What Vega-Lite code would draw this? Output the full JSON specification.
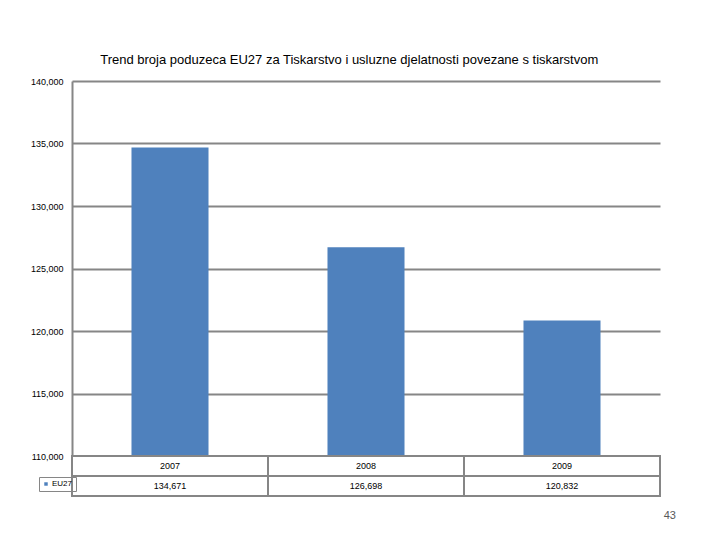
{
  "$schema": "https://vega.github.io/schema/vega-lite/v6.json",
  "background": "white",
  "padding": {"left": 30, "top": 54, "right": 5, "bottom": 5},
  "bounds": "flush",
  "title": {"text": "Trend broja poduzeca EU27 za Tiskarstvo i usluzne djelatnosti povezane s tiskarstvom", "fontSize": 13, "font": "Liberation Sans", "fontWeight": "normal", "color": "#000000", "anchor": "middle", "offset": 10, "dx": -4},
  "config": {"view": {"stroke": null}, "font": "Liberation Sans"},
  "spacing": 0,
  "vconcat": [
    {
      "width": 588,
      "height": 375,
      "data": {"values": [
        {"year": "2007", "value": 134671, "series": "EU27"},
        {"year": "2008", "value": 126698, "series": "EU27"},
        {"year": "2009", "value": 120832, "series": "EU27"}
      ]},
      "mark": {"type": "bar"},
      "encoding": {
        "x": {"field": "year", "type": "ordinal", "scale": {"paddingInner": 0.607, "paddingOuter": 0.3035}, "axis": null},
        "y": {"field": "value", "type": "quantitative", "scale": {"domain": [110000, 140000], "nice": false, "zero": false},
          "axis": {"values": [110000, 115000, 120000, 125000, 130000, 135000, 140000], "labelExpr": "format(datum.value, ',')", "grid": true, "gridColor": "#868686", "gridWidth": 2, "domainColor": "#868686", "domainWidth": 2, "ticks": false, "labelFontSize": 9, "labelPadding": 9, "title": null, "labelColor": "#000000"}},
        "y2": {"datum": 110000},
        "color": {"field": "series", "type": "nominal", "scale": {"range": ["#4F81BD"]},
          "legend": {"orient": "none", "legendX": -33, "legendY": 396, "title": null, "symbolType": "square", "symbolSize": 12, "symbolStrokeWidth": 0, "labelOffset": 2, "labelFontSize": 8, "labelColor": "#000000", "strokeColor": "#868686", "padding": 3}}
      }
    },
    {
      "width": 588,
      "height": 40,
      "data": {"values": [
        {"year": "2007", "row": "a", "label": "2007"},
        {"year": "2008", "row": "a", "label": "2008"},
        {"year": "2009", "row": "a", "label": "2009"},
        {"year": "2007", "row": "b", "label": "134,671"},
        {"year": "2008", "row": "b", "label": "126,698"},
        {"year": "2009", "row": "b", "label": "120,832"}
      ]},
      "title": {"text": "43", "orient": "bottom", "anchor": "end", "fontSize": 11, "fontWeight": "normal", "color": "#595959", "offset": 13, "dx": 15},
      "encoding": {
        "x": {"field": "year", "type": "ordinal", "scale": {"paddingInner": 0, "paddingOuter": 0}, "axis": null},
        "y": {"field": "row", "type": "ordinal", "axis": null}
      },
      "layer": [
        {"mark": {"type": "rect", "fill": "white", "stroke": "#868686", "strokeWidth": 2}},
        {"mark": {"type": "text", "fontSize": 9, "color": "#000000"}, "encoding": {"text": {"field": "label"}}}
      ]
    }
  ]
}
